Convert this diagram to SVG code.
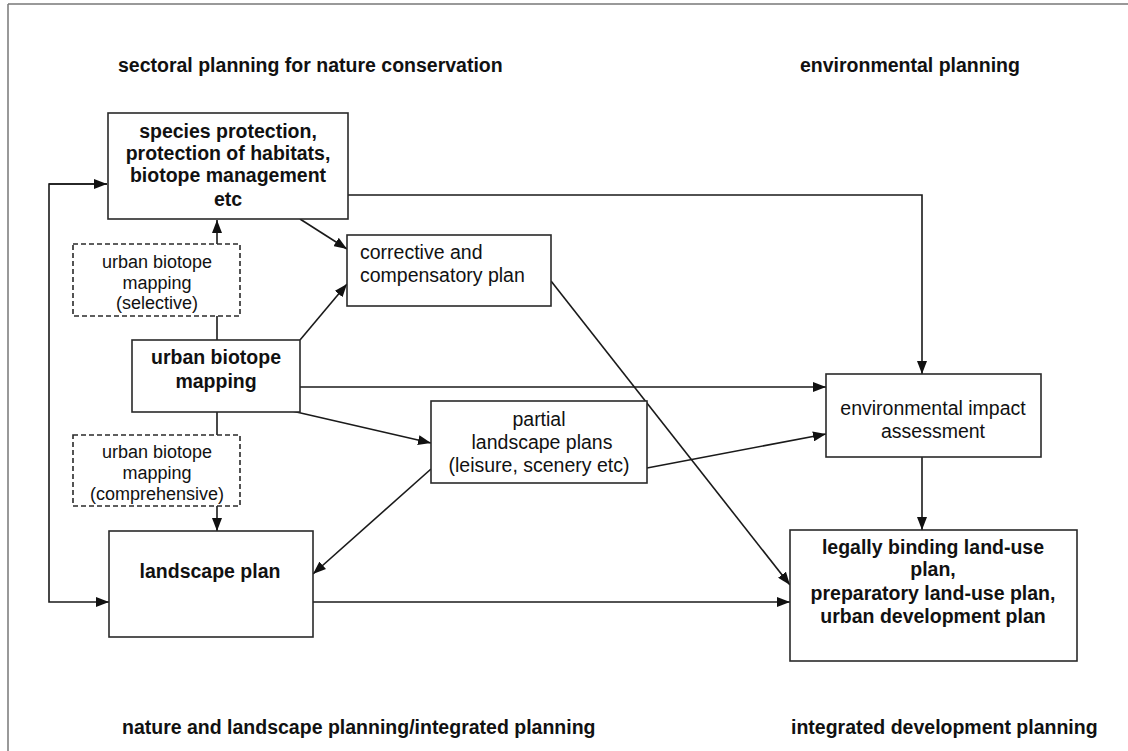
<svg xmlns="http://www.w3.org/2000/svg" width="1128" height="751" viewBox="0 0 1128 751">
<style>
  .box { fill: #fff; stroke: #2a2a2a; stroke-width: 1.6; }
  .dash { fill: #fff; stroke: #2a2a2a; stroke-width: 1.6; stroke-dasharray: 5 3; }
  .t { font-family: "Liberation Sans", Arial, sans-serif; fill: #111; dominant-baseline: central; }
  .b { font-weight: bold; font-size: 19.5px; }
  .r { font-size: 19.5px; }
  .s { font-size: 18px; }
  .c { text-anchor: middle; }
  .ln { fill: none; stroke: #1a1a1a; stroke-width: 1.6; }
  .arr { marker-end: url(#ah); }
</style>
<defs>
  <marker id="ah" markerUnits="userSpaceOnUse" markerWidth="13" markerHeight="10" refX="13" refY="5" orient="auto">
    <path d="M0,0 L13,5 L0,10 z" fill="#111"/>
  </marker>
</defs>
<rect width="1128" height="751" fill="#fff"/>
<g id="frame">
  <line x1="8" y1="4" x2="1128" y2="4" stroke="#777" stroke-width="1.5"/>
  <line x1="8" y1="4" x2="8" y2="751" stroke="#777" stroke-width="1.5"/>
</g>
<g id="labels">
  <text class="t b" x="118" y="65">sectoral planning for nature conservation</text>
  <text class="t b" x="800" y="65">environmental planning</text>
  <text class="t b" x="122" y="727">nature and landscape planning/integrated planning</text>
  <text class="t b" x="791" y="727">integrated development planning</text>
</g>
<g id="connectors">
  <polyline class="ln arr" points="348,195 922,195 922,374"/>
  <polyline class="ln arr" points="107,184 49,184 49,602 109,602" style="marker-end:url(#ah)"/>
  <line class="ln arr" x1="49" y1="184" x2="107" y2="184"/>
  <line class="ln arr" x1="217" y1="244" x2="217" y2="220"/>
  <line class="ln" x1="217" y1="316" x2="217" y2="340"/>
  <line class="ln" x1="217" y1="412" x2="217" y2="435"/>
  <line class="ln arr" x1="217" y1="506" x2="217" y2="531"/>
  <line class="ln arr" x1="300" y1="219" x2="347" y2="249"/>
  <line class="ln arr" x1="300" y1="340" x2="347" y2="284"/>
  <line class="ln arr" x1="300" y1="387" x2="826" y2="387"/>
  <line class="ln arr" x1="292" y1="411" x2="431" y2="443"/>
  <line class="ln arr" x1="431" y1="469" x2="313" y2="574"/>
  <line class="ln arr" x1="647" y1="468" x2="826" y2="434"/>
  <line class="ln arr" x1="551" y1="281" x2="790" y2="585"/>
  <line class="ln arr" x1="313" y1="602" x2="790" y2="602"/>
  <line class="ln arr" x1="922" y1="457" x2="922" y2="530"/>
</g>
<g id="species">
  <rect class="box" x="108" y="113" width="240" height="106"/>
  <text class="t b c" x="228" y="131">species protection,</text>
  <text class="t b c" x="228" y="153">protection of habitats,</text>
  <text class="t b c" x="228" y="175">biotope management</text>
  <text class="t b c" x="228" y="199">etc</text>
</g>
<g id="selective">
  <rect class="dash" x="73" y="244" width="167" height="72"/>
  <text class="t s c" x="157" y="262">urban biotope</text>
  <text class="t s c" x="157" y="283">mapping</text>
  <text class="t s c" x="157" y="303">(selective)</text>
</g>
<g id="urban">
  <rect class="box" x="132" y="340" width="168" height="72"/>
  <text class="t b c" x="216" y="357">urban biotope</text>
  <text class="t b c" x="216" y="381">mapping</text>
</g>
<g id="comprehensive">
  <rect class="dash" x="73" y="435" width="167" height="71"/>
  <text class="t s c" x="157" y="452">urban biotope</text>
  <text class="t s c" x="157" y="473">mapping</text>
  <text class="t s c" x="157" y="494">(comprehensive)</text>
</g>
<g id="landscape">
  <rect class="box" x="109" y="531" width="204" height="106"/>
  <text class="t b c" x="210" y="571">landscape plan</text>
</g>
<g id="corrective">
  <rect class="box" x="347" y="235" width="204" height="71"/>
  <text class="t r" x="360" y="252">corrective and</text>
  <text class="t r" x="360" y="275">compensatory plan</text>
</g>
<g id="partial">
  <rect class="box" x="431" y="401" width="216" height="82"/>
  <text class="t r c" x="539" y="419">partial</text>
  <text class="t r c" x="542" y="442">landscape plans</text>
  <text class="t r c" x="539" y="465">(leisure, scenery etc)</text>
</g>
<g id="eia">
  <rect class="box" x="826" y="374" width="215" height="83"/>
  <text class="t r c" x="933" y="408">environmental impact</text>
  <text class="t r c" x="933" y="431">assessment</text>
</g>
<g id="legal">
  <rect class="box" x="790" y="530" width="287" height="131"/>
  <text class="t b c" x="933" y="547">legally binding land-use</text>
  <text class="t b c" x="933" y="569">plan,</text>
  <text class="t b c" x="933" y="593">preparatory land-use plan,</text>
  <text class="t b c" x="933" y="616">urban development plan</text>
</g>
</svg>
